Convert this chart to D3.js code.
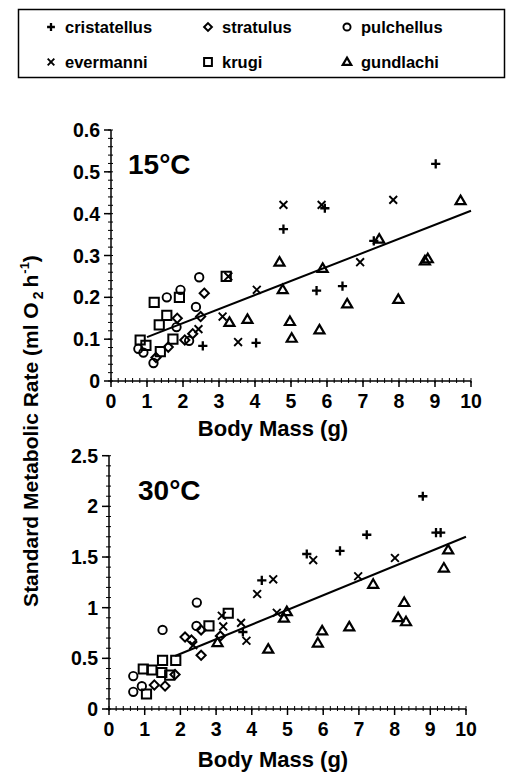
<!DOCTYPE html>
<html>
<head>
<meta charset="utf-8">
<script src="https://cdn.jsdelivr.net/npm/d3@7.9.0/dist/d3.min.js"></script>
<style>
  body { margin: 0; background: #fff; }
  svg { display: block; }
  text { font-family: "Liberation Sans", Arial, Helvetica, sans-serif; font-weight: bold; fill: #000; }
</style>
</head>
<body>
<svg id="chart" width="512" height="775"></svg>
<script>
// legend order (row by row)
const species = ['cristatellus', 'stratulus', 'pulchellus', 'evermanni', 'krugi', 'gundlachi'];

// 15°C : [body mass (g), SMR (ml O2 h-1)]
const cristatellus15 = [[2.55, 0.084], [4.03, 0.091], [4.79, 0.363], [5.94, 0.413], [5.71, 0.216],
  [6.43, 0.227], [7.3, 0.335], [9.02, 0.519]];
const evermanni15 = [[4.79, 0.421], [5.85, 0.421], [7.84, 0.433], [6.92, 0.284], [4.05, 0.218],
  [3.1, 0.154], [3.53, 0.093], [2.43, 0.124], [3.26, 0.25]];
const stratulus15 = [[2.59, 0.21], [2.49, 0.154], [1.84, 0.15], [2.27, 0.113], [2.05, 0.098],
  [1.59, 0.081], [1.25, 0.056]];
const pulchellus15 = [[2.45, 0.248], [1.93, 0.218], [1.55, 0.2], [2.36, 0.177], [1.82, 0.129],
  [2.17, 0.096], [1.18, 0.043], [0.76, 0.077], [0.9, 0.068]];
const krugi15 = [[1.2, 0.188], [1.9, 0.2], [1.55, 0.157], [1.34, 0.134], [1.72, 0.1], [1.37, 0.07],
  [0.81, 0.098], [0.97, 0.085], [3.2, 0.25]];
const gundlachi15 = [[9.71, 0.431], [7.45, 0.339], [4.68, 0.284], [5.88, 0.269], [8.72, 0.287],
  [8.8, 0.292], [4.77, 0.218], [6.56, 0.184], [7.98, 0.195], [4.97, 0.142], [5.02, 0.102],
  [5.79, 0.122], [3.29, 0.14], [3.79, 0.147]];
const fit15 = [[1.0, 0.105], [10.0, 0.407]];

// 30°C
const cristatellus30 = [[8.79, 2.1], [9.16, 1.74], [9.29, 1.74], [7.22, 1.72], [6.47, 1.56],
  [5.54, 1.53], [4.28, 1.27], [3.75, 0.76]];
const evermanni30 = [[5.72, 1.47], [4.6, 1.28], [4.15, 1.135], [8.01, 1.49], [6.98, 1.31],
  [4.7, 0.95], [3.16, 0.92], [3.7, 0.85], [3.2, 0.815], [3.85, 0.674], [2.36, 0.63]];
const stratulus30 = [[2.58, 0.78], [3.12, 0.72], [2.13, 0.71], [2.31, 0.68], [2.58, 0.53],
  [1.85, 0.34], [1.27, 0.237], [1.57, 0.227]];
const pulchellus30 = [[2.46, 1.05], [2.45, 0.82], [1.5, 0.78], [0.68, 0.325], [0.92, 0.225], [0.68, 0.17]];
const krugi30 = [[3.34, 0.945], [2.8, 0.82], [1.87, 0.48], [1.5, 0.48], [0.96, 0.395], [1.2, 0.385],
  [1.48, 0.36], [1.7, 0.335], [1.05, 0.148]];
const gundlachi30 = [[9.5, 1.57], [9.38, 1.39], [7.4, 1.23], [8.27, 1.05], [8.1, 0.9], [8.32, 0.86],
  [4.98, 0.96], [4.9, 0.895], [4.46, 0.59], [5.85, 0.65], [5.97, 0.77], [6.73, 0.81], [3.04, 0.655]];
const fit30 = [[1.85, 0.523], [10.0, 1.7]];

// tick labels
const massTicks = [0, 1, 2, 3, 4, 5, 6, 7, 8, 9, 10];
const rateTicks15 = [0, 0.1, 0.2, 0.3, 0.4, 0.5, 0.6];
const rateTicks30 = [0, 0.5, 1, 1.5, 2, 2.5];

// symbol shapes; size = half-width in px
const shapes = {
  cristatellus: { draw(c, r) { c.moveTo(-r, 0); c.lineTo(r, 0); c.moveTo(0, -r); c.lineTo(0, r); } },
  evermanni: { draw(c, r) { c.moveTo(-r, -r); c.lineTo(r, r); c.moveTo(-r, r); c.lineTo(r, -r); } },
  stratulus: { draw(c, r) { c.moveTo(0, -r); c.lineTo(r, 0); c.lineTo(0, r); c.lineTo(-r, 0); c.closePath(); } },
  pulchellus: { draw(c, r) { c.moveTo(r, 0); c.arc(0, 0, r, 0, 2 * Math.PI); } },
  krugi: { draw(c, r) { c.rect(-r, -r, 2 * r, 2 * r); } },
  gundlachi: { draw(c, r) { const h = r * 1.7; c.moveTo(0, -h * 0.6); c.lineTo(r, h * 0.4); c.lineTo(-r, h * 0.4); c.closePath(); } }
};
const shapeSize = { cristatellus: 4.6, evermanni: 3.9, stratulus: 4.6, pulchellus: 4.2, krugi: 4.6, gundlachi: 5.0 };
const shapeStroke = { cristatellus: 2.3, evermanni: 1.9, stratulus: 2, pulchellus: 1.9, krugi: 2, gundlachi: 2.2 };

const svg = d3.select('#chart');

// legend
const legend = svg.append('g');
legend.append('rect')
  .attr('x', 18.5).attr('y', 9.5).attr('width', 486).attr('height', 68)
  .attr('fill', 'none').attr('stroke', '#000').attr('stroke-width', 1.5);
const legX = [51, 208, 347];
const legY = [27, 62];
species.forEach((sp, i) => {
  const x = legX[i % 3], y = legY[Math.floor(i / 3)];
  legend.append('path')
    .attr('transform', `translate(${x},${y})`)
    .attr('d', d3.symbol().type(shapes[sp]).size(shapeSize[sp] * 0.85)())
    .attr('fill', 'none').attr('stroke', '#000').attr('stroke-width', shapeStroke[sp]);
  legend.append('text')
    .attr('x', x + 14).attr('y', y + 6)
    .attr('font-size', 16.5)
    .text(sp);
});

function drawPanel(cfg) {
  const g = svg.append('g');
  const x = d3.scaleLinear().domain([0, 10]).range(cfg.xRange);
  const y = d3.scaleLinear().domain(cfg.yDomain).range(cfg.yRange);

  // axes lines
  g.append('line').attr('x1', x(0)).attr('x2', x(0)).attr('y1', y(cfg.yDomain[1])).attr('y2', y(0))
    .attr('stroke', '#000').attr('stroke-width', 1.5);
  g.append('line').attr('x1', x(0)).attr('x2', x(10)).attr('y1', y(0)).attr('y2', y(0))
    .attr('stroke', '#000').attr('stroke-width', 1.5);

  // minor ticks
  const yMinor = d3.range(0, cfg.yDomain[1] + 1e-9, cfg.yMinor);
  g.selectAll('.ymin').data(yMinor).join('line')
    .attr('x1', x(0) - 3).attr('x2', x(0) + 2)
    .attr('y1', d => y(d)).attr('y2', d => y(d))
    .attr('stroke', '#000').attr('stroke-width', 1);
  const xMinor = d3.range(0, 10 + 1e-9, 0.2);
  g.selectAll('.xmin').data(xMinor).join('line')
    .attr('x1', d => x(d)).attr('x2', d => x(d))
    .attr('y1', y(0) - 3).attr('y2', y(0) + 2)
    .attr('stroke', '#000').attr('stroke-width', 1);

  // major ticks + labels
  g.selectAll('.ymaj').data(cfg.yTicks).join('line')
    .attr('x1', x(0) - 7).attr('x2', x(0))
    .attr('y1', d => y(d)).attr('y2', d => y(d))
    .attr('stroke', '#000').attr('stroke-width', 1.5);
  g.selectAll('.ylab').data(cfg.yTicks).join('text')
    .attr('x', x(0) - 11).attr('y', d => y(d) + 7)
    .attr('text-anchor', 'end').attr('font-size', 19.5)
    .text(d => d);
  g.selectAll('.xmaj').data(massTicks).join('line')
    .attr('x1', d => x(d)).attr('x2', d => x(d))
    .attr('y1', y(0)).attr('y2', y(0) + 6)
    .attr('stroke', '#000').attr('stroke-width', 1.5);
  g.selectAll('.xlab').data(massTicks).join('text')
    .attr('x', d => x(d)).attr('y', y(0) + 27)
    .attr('text-anchor', 'middle').attr('font-size', 19.5)
    .text(d => d);

  g.append('text')
    .attr('x', 273).attr('y', y(0) + cfg.xTitleOffset)
    .attr('text-anchor', 'middle').attr('font-size', 22)
    .text('Body Mass (g)');

  g.append('text')
    .attr('x', cfg.title[0]).attr('y', cfg.title[1])
    .attr('font-size', 28)
    .text(cfg.label);

  // regression line
  g.append('path')
    .attr('d', d3.line().x(d => x(d[0])).y(d => y(d[1]))(cfg.fit))
    .attr('fill', 'none').attr('stroke', '#000').attr('stroke-width', 2);

  // points
  species.forEach(sp => {
    g.selectAll(null).data(cfg.data[sp]).join('path')
      .attr('transform', d => `translate(${x(d[0])},${y(d[1])})`)
      .attr('d', d3.symbol().type(shapes[sp]).size(shapeSize[sp])())
      .attr('fill', 'none').attr('stroke', '#000').attr('stroke-width', shapeStroke[sp]);
  });
}

drawPanel({
  xRange: [111, 471], yDomain: [0, 0.6], yRange: [381, 130], yMinor: 0.02,
  yTicks: rateTicks15, fit: fit15, label: '15°C', title: [128, 174], xTitleOffset: 55,
  data: { cristatellus: cristatellus15, stratulus: stratulus15, pulchellus: pulchellus15,
    evermanni: evermanni15, krugi: krugi15, gundlachi: gundlachi15 }
});
drawPanel({
  xRange: [109, 466], yDomain: [0, 2.5], yRange: [709, 455.7], yMinor: 0.1,
  yTicks: rateTicks30, fit: fit30, label: '30°C', title: [138, 500], xTitleOffset: 58,
  data: { cristatellus: cristatellus30, stratulus: stratulus30, pulchellus: pulchellus30,
    evermanni: evermanni30, krugi: krugi30, gundlachi: gundlachi30 }
});

// shared y axis title
const yt = svg.append('text')
  .attr('transform', 'translate(37.5,431) rotate(-90)')
  .attr('text-anchor', 'middle').attr('font-size', 21);
yt.append('tspan').text('Standard Metabolic Rate (ml O');
yt.append('tspan').attr('font-size', 14).attr('dy', 5).attr('dx', 3).text('2');
yt.append('tspan').attr('dy', -5).attr('dx', 4).text('h');
yt.append('tspan').attr('font-size', 13).attr('dy', -9).attr('dx', 1).text('-1');
yt.append('tspan').attr('dy', 9).text(')');
</script>
</body>
</html>
